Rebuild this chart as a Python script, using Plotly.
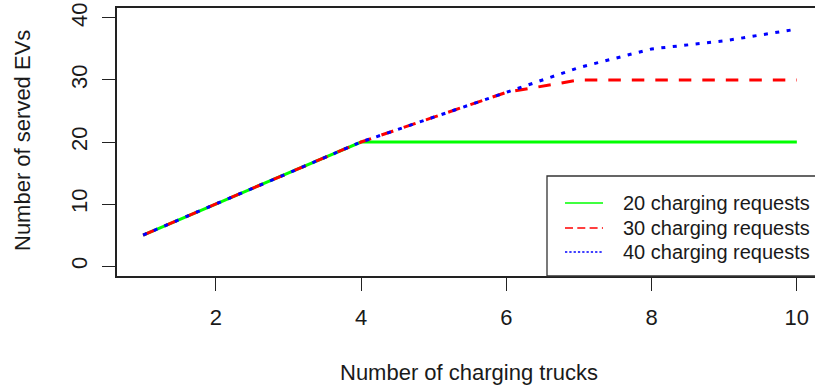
import plotly.graph_objects as go

# Served EVs versus the number of charging trucks, one series per request level
trucks = [1, 2, 3, 4, 5, 6, 7, 8, 9, 10]
served_20 = [5, 10, 15, 20, 20, 20, 20, 20, 20, 20]
served_30 = [5, 10, 15, 20, 24, 28, 30, 30, 30, 30]
served_40 = [5, 10, 15, 20, 24, 28, 32, 35, 36.3, 38.2]

series_names = ["20 charging requests", "30 charging requests", "40 charging requests"]
series_values = [served_20, served_30, served_40]
series_colors = ["#00ff00", "#ff0000", "#0000ff"]
series_dash = ["solid", "12.5px,11px", "4px,7.5px"]
legend_dash = ["solid", "8px,4.3px", "2.3px,2px"]

x_ticks = [2, 4, 6, 8, 10]
y_ticks = [0, 10, 20, 30, 40]

W, H = 815, 389
M_L, M_R, M_T, M_B = 117, 0, 8, 113
PW, PH = W - M_L - M_R, H - M_T - M_B


def px_x(p):
    return (p - M_L) / PW


def px_y(p):
    return (H - M_B - p) / PH


FONT = "Liberation Sans, Arial, sans-serif"
INK = "#1a1a1a"

fig = go.Figure()
for name, vals, col, dash in zip(series_names, series_values, series_colors, series_dash):
    fig.add_trace(go.Scatter(
        x=trucks, y=vals, mode="lines", name=name,
        line=dict(color=col, width=3, dash=dash),
        showlegend=False, hoverinfo="skip",
    ))

shapes = []
annotations = []

# boxed legend in the lower right corner
shapes.append(dict(type="rect", xref="paper", yref="paper",
                   x0=px_x(547), x1=1.08, y0=0, y1=px_y(176),
                   line=dict(color="#333333", width=1.3),
                   fillcolor="white", layer="above"))
row_y = [203, 228, 252]
for name, col, dash, ry in zip(series_names, series_colors, legend_dash, row_y):
    shapes.append(dict(type="line", xref="paper", yref="paper",
                       x0=px_x(565), x1=px_x(603), y0=px_y(ry), y1=px_y(ry),
                       line=dict(color=col, width=1.5, dash=dash), layer="above"))
    annotations.append(dict(xref="paper", yref="paper", x=px_x(621), y=px_y(ry),
                            xanchor="left", yanchor="middle", showarrow=False,
                            text=name, font=dict(family=FONT, size=20, color=INK)))

# axis titles
annotations.append(dict(xref="paper", yref="paper", x=px_x(469), y=px_y(372),
                        xanchor="center", yanchor="middle", showarrow=False,
                        text="Number of charging trucks",
                        font=dict(family=FONT, size=22, color=INK)))
annotations.append(dict(xref="paper", yref="paper", x=px_x(22), y=px_y(141),
                        xanchor="center", yanchor="middle", showarrow=False,
                        textangle=-90, text="Number of served EVs",
                        font=dict(family=FONT, size=22, color=INK)))

fig.update_layout(
    width=W, height=H,
    margin=dict(l=M_L, r=M_R, t=M_T, b=M_B, pad=0),
    paper_bgcolor="white", plot_bgcolor="white",
    shapes=shapes, annotations=annotations,
    showlegend=False,
)
fig.update_xaxes(
    range=[0.64, 10.25], tickvals=x_ticks, ticktext=[str(v) for v in x_ticks],
    showgrid=False, zeroline=False,
    showline=True, mirror=True, linecolor="#222222", linewidth=1.5,
    ticks="outside", ticklen=13, tickwidth=1.3, tickcolor="#222222",
    tickfont=dict(family=FONT, size=22, color=INK), ticklabelstandoff=8,
)
fig.update_yaxes(
    range=[-1.6, 41.6], tickvals=y_ticks, ticktext=[str(v) for v in y_ticks],
    showgrid=False, zeroline=False,
    showline=True, mirror=False, linecolor="#222222", linewidth=1.5,
    ticks="outside", ticklen=13, tickwidth=1.3, tickcolor="#222222",
    tickangle=-90, tickfont=dict(family=FONT, size=22, color=INK),
    ticklabelstandoff=6,
)

fig.write_html("out.html")
